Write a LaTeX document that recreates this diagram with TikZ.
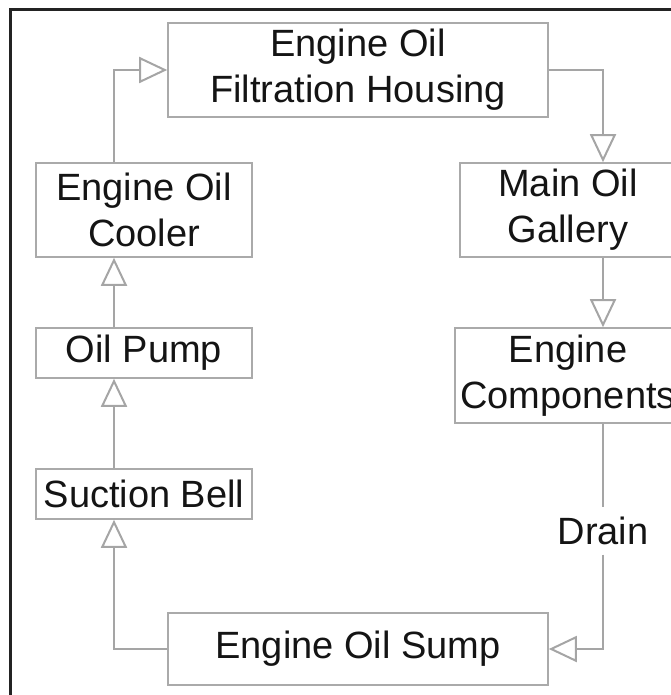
\documentclass[tikz,border=0pt]{standalone}
\usepackage{fontspec}
\setmainfont{Liberation Sans}
\usetikzlibrary{arrows.meta}
\definecolor{linegray}{RGB}{165,165,165}
\definecolor{boxgray}{RGB}{170,170,170}
\definecolor{framegray}{RGB}{35,35,35}
\definecolor{txt}{RGB}{20,20,20}
\begin{document}
\begin{tikzpicture}[x=1pt,y=-1pt,
  box/.style={draw=boxgray, line width=1.6pt, align=center, inner sep=0pt, text=txt, font=\fontsize{38}{46}\selectfont},
  lbl/.style={text=txt, font=\fontsize{38}{46}\selectfont, inner sep=9.5pt},
  conn/.style={draw=linegray, line width=2pt},
  flow/.style={conn, -{Triangle[open, length=28pt, width=26pt]}},
  ]
\useasboundingbox (0,0) rectangle (670,695);
\draw[framegray, line width=3pt] (10,700) -- (10,10) -- (680,10);

\node[box, minimum width=380pt, minimum height=94pt] (filt) at (358,70) {Engine Oil\\Filtration Housing};
\node[box, minimum width=216pt, minimum height=94pt] (cool) at (144,210) {Engine Oil\\Cooler};
\node[box, minimum width=216pt, minimum height=50pt] (pump) at (144,353) {Oil Pump};
\node[box, minimum width=216pt, minimum height=50pt] (bell) at (144,494) {Suction Bell};
\node[box, minimum width=380pt, minimum height=72pt] (sump) at (358,649) {Engine Oil Sump};
\node[box, minimum width=216pt, minimum height=94pt] (gal) at (568,210) {Main Oil\\Gallery};
\node[box, minimum width=226pt, minimum height=95pt] (comp) at (568,375.5) {Engine\\Components};
\node[lbl] (drain) at (603,531) {Drain};

\coordinate (lx) at (114,0);
\coordinate (rx) at (603,0);

\draw[flow] (sump.west) -| (bell.south -| lx);
\draw[flow] (bell.north -| lx) -- (pump.south -| lx);
\draw[flow] (pump.north -| lx) -- (cool.south -| lx);
\draw[flow] (cool.north -| lx) |- (filt.west);
\draw[flow] (filt.east) -| (gal.north -| rx);
\draw[flow] (gal.south -| rx) -- (comp.north -| rx);
\draw[conn] (comp.south -| rx) -- (drain.north);
\draw[flow] (drain.south) |- (sump.east);
\end{tikzpicture}
\end{document}
